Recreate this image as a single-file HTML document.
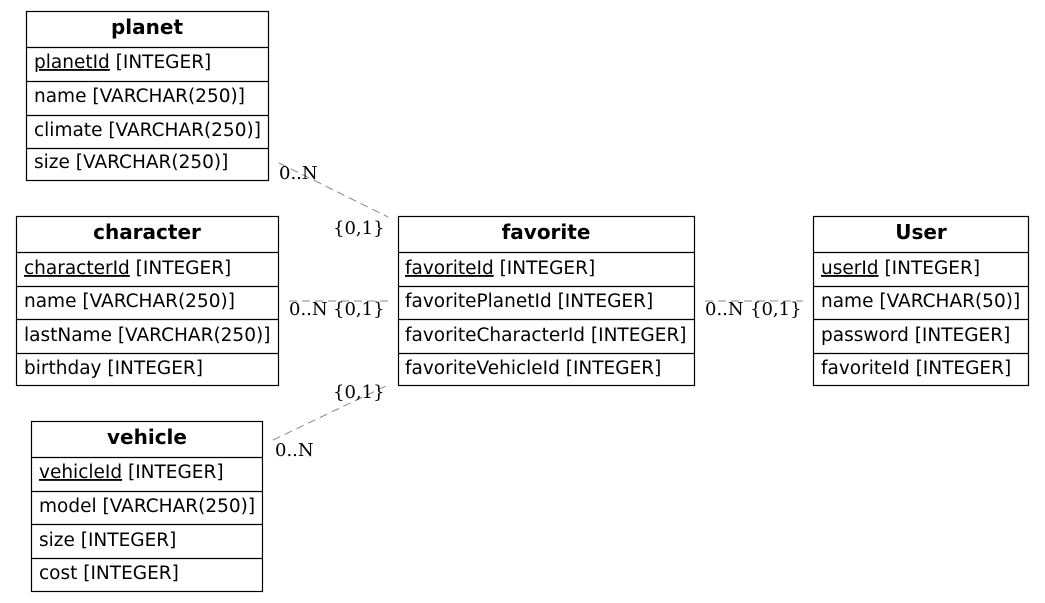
<!DOCTYPE html>
<html><head><meta charset="utf-8"><style>body{margin:0;background:#fff}svg{display:block}</style></head><body>
<svg width="1045" height="603" xmlns="http://www.w3.org/2000/svg" font-family="DejaVu Sans, sans-serif" font-size="18.5">
<rect width="1045" height="603" fill="#fff"/>
<g stroke="#888" stroke-dasharray="8,5" fill="none">
<line x1="279" y1="163" x2="388" y2="217"/>
<line x1="289" y1="301" x2="388" y2="301"/>
<line x1="273" y1="440" x2="388" y2="385"/>
<line x1="705" y1="301" x2="803" y2="301"/>
</g>
<g font-family="DejaVu Serif, serif" font-size="18" fill="#000">
<text x="279" y="179">0..N</text><text x="333" y="234">{0,1}</text>
<text x="289" y="315">0..N</text><text x="333" y="315">{0,1}</text>
<text x="333" y="398">{0,1}</text><text x="275" y="456">0..N</text>
<text x="705" y="315">0..N</text><text x="750" y="315">{0,1}</text>
</g>
<g stroke="#000" stroke-width="1.2" fill="none">
<rect x="26.5" y="11.5" width="242" height="169"/>
<line x1="26" y1="47.5" x2="269" y2="47.5"/><line x1="26" y1="81.5" x2="269" y2="81.5"/><line x1="26" y1="115.5" x2="269" y2="115.5"/><line x1="26" y1="148.5" x2="269" y2="148.5"/>
<rect x="16.5" y="216.5" width="262" height="169"/>
<line x1="16" y1="252.5" x2="279" y2="252.5"/><line x1="16" y1="286.5" x2="279" y2="286.5"/><line x1="16" y1="319.5" x2="279" y2="319.5"/><line x1="16" y1="353.5" x2="279" y2="353.5"/>
<rect x="398.5" y="216.5" width="296" height="169"/>
<line x1="398" y1="252.5" x2="695" y2="252.5"/><line x1="398" y1="286.5" x2="695" y2="286.5"/><line x1="398" y1="319.5" x2="695" y2="319.5"/><line x1="398" y1="353.5" x2="695" y2="353.5"/>
<rect x="813.5" y="216.5" width="215" height="169"/>
<line x1="813" y1="252.5" x2="1029" y2="252.5"/><line x1="813" y1="286.5" x2="1029" y2="286.5"/><line x1="813" y1="319.5" x2="1029" y2="319.5"/><line x1="813" y1="353.5" x2="1029" y2="353.5"/>
<rect x="31.5" y="421.5" width="231" height="170"/>
<line x1="31" y1="457.5" x2="263" y2="457.5"/><line x1="31" y1="491.5" x2="263" y2="491.5"/><line x1="31" y1="524.5" x2="263" y2="524.5"/><line x1="31" y1="558.5" x2="263" y2="558.5"/>
</g>
<g fill="#000">
<g font-weight="bold" font-size="20" text-anchor="middle">
<text x="147" y="34">planet</text><text x="147" y="239">character</text><text x="546" y="239">favorite</text><text x="921" y="239">User</text><text x="147" y="444">vehicle</text>
</g>
<text x="34" y="68"><tspan text-decoration="underline">planetId</tspan> [INTEGER]</text>
<text x="34" y="102">name [VARCHAR(250)]</text>
<text x="34" y="136">climate [VARCHAR(250)]</text>
<text x="34" y="168">size [VARCHAR(250)]</text>
<text x="24" y="274"><tspan text-decoration="underline">characterId</tspan> [INTEGER]</text>
<text x="24" y="307">name [VARCHAR(250)]</text>
<text x="24" y="341">lastName [VARCHAR(250)]</text>
<text x="24" y="374">birthday [INTEGER]</text>
<text x="405" y="274"><tspan text-decoration="underline">favoriteId</tspan> [INTEGER]</text>
<text x="405" y="307">favoritePlanetId [INTEGER]</text>
<text x="405" y="341">favoriteCharacterId [INTEGER]</text>
<text x="405" y="374">favoriteVehicleId [INTEGER]</text>
<text x="821" y="274"><tspan text-decoration="underline">userId</tspan> [INTEGER]</text>
<text x="821" y="307">name [VARCHAR(50)]</text>
<text x="821" y="341">password [INTEGER]</text>
<text x="821" y="374">favoriteId [INTEGER]</text>
<text x="39" y="478"><tspan text-decoration="underline">vehicleId</tspan> [INTEGER]</text>
<text x="39" y="512">model [VARCHAR(250)]</text>
<text x="39" y="546">size [INTEGER]</text>
<text x="39" y="579">cost [INTEGER]</text>
</g>
</svg>
</body></html>
